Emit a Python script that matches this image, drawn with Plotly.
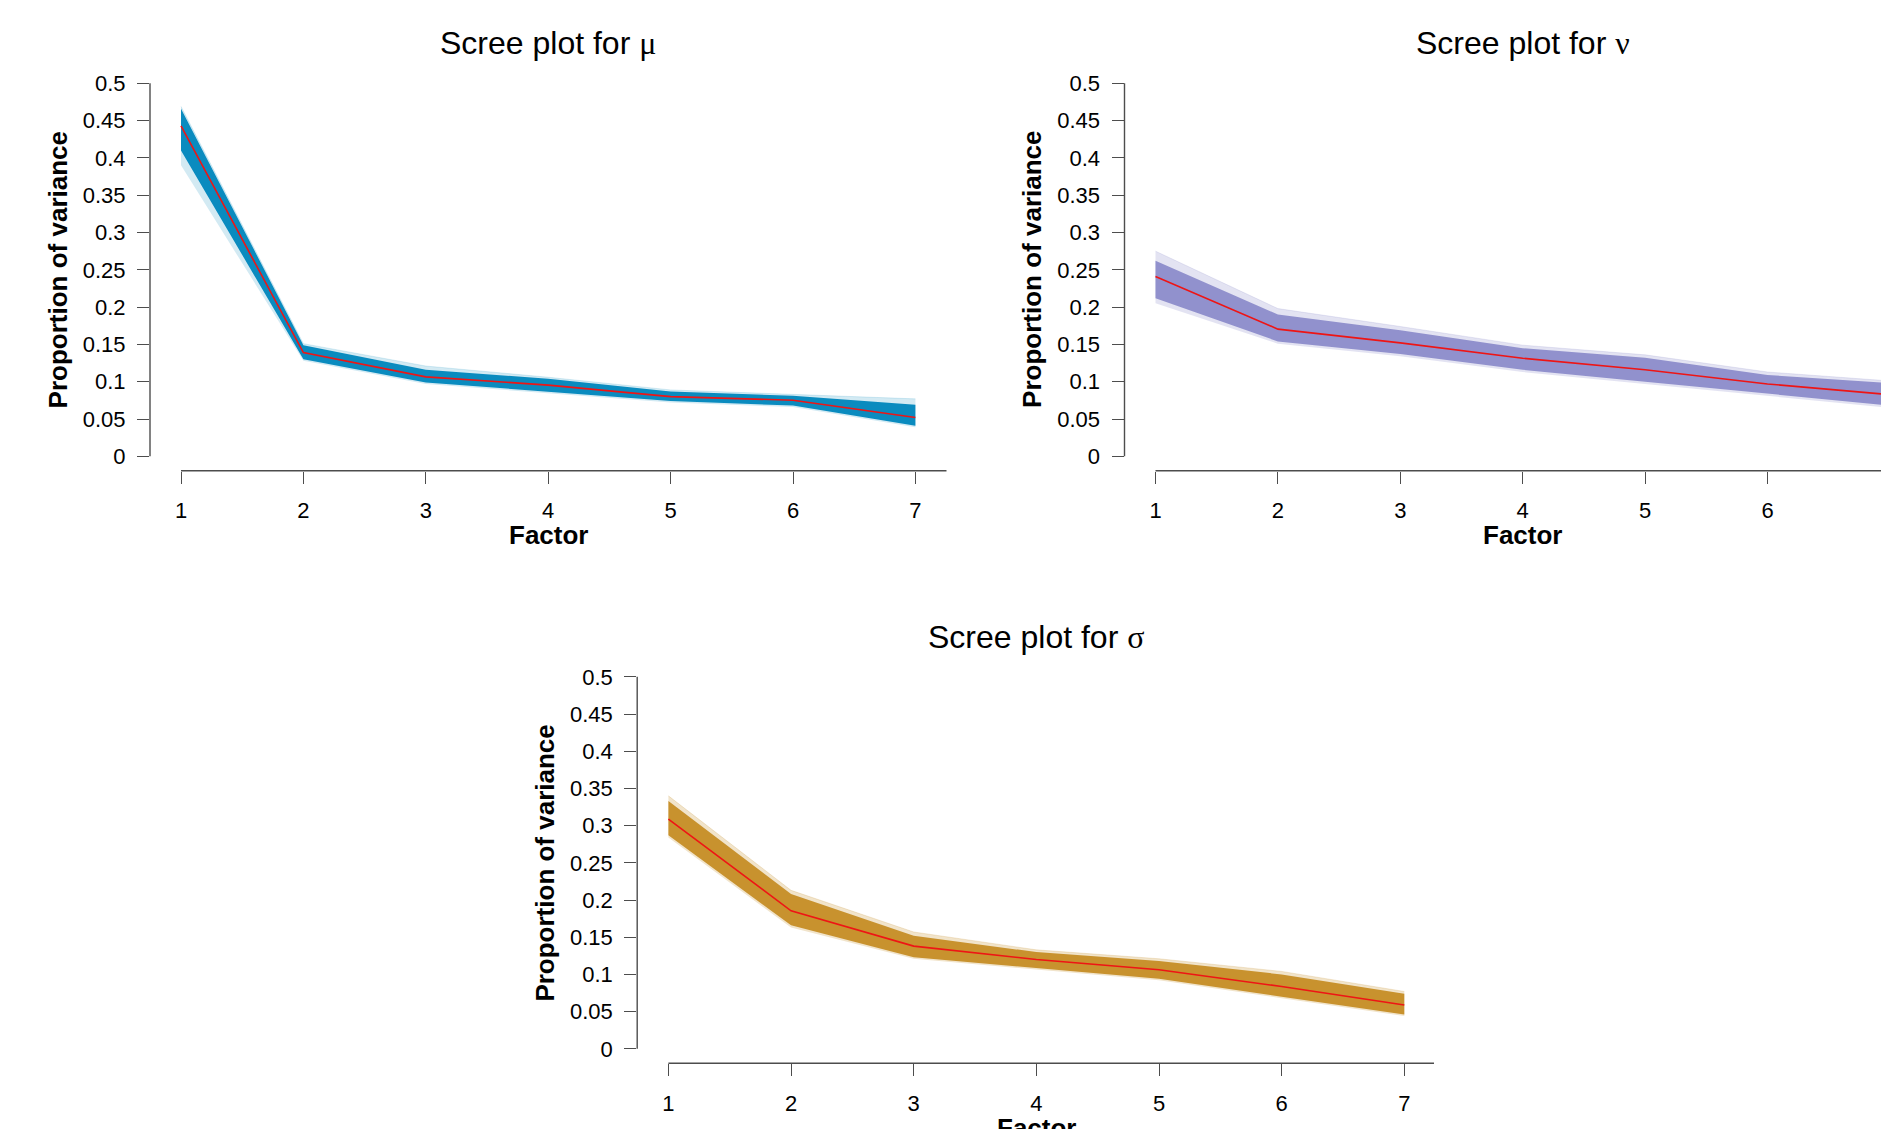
import plotly.graph_objects as go

W, H = 1881, 1129

factors = [1, 2, 3, 4, 5, 6, 7]
y_tickvals = [0, 0.05, 0.1, 0.15, 0.2, 0.25, 0.3, 0.35, 0.4, 0.45, 0.5]
y_ticktext = ["0", "0.05", "0.1", "0.15", "0.2", "0.25", "0.3", "0.35", "0.4", "0.45", "0.5"]
x_ticktext = ["1", "2", "3", "4", "5", "6", "7"]

titles = ["μ", "ν", "σ"]

mu_median = [0.443, 0.139, 0.1065, 0.0954, 0.080, 0.0752, 0.052]
mu_inner_lo = [0.410, 0.130, 0.099, 0.086, 0.074, 0.068, 0.041]
mu_inner_hi = [0.466, 0.149, 0.116, 0.104, 0.087, 0.081, 0.069]
mu_outer_lo = [0.390, 0.128, 0.097, 0.084, 0.072, 0.066, 0.039]
mu_outer_hi = [0.469, 0.151, 0.121, 0.106, 0.089, 0.083, 0.077]

nu_median = [0.241, 0.1705, 0.152, 0.1315, 0.116, 0.097, 0.0827]
nu_inner_lo = [0.212, 0.154, 0.137, 0.116, 0.100, 0.084, 0.068]
nu_inner_hi = [0.262, 0.190, 0.169, 0.145, 0.132, 0.109, 0.098]
nu_outer_lo = [0.205, 0.151, 0.134, 0.113, 0.097, 0.081, 0.065]
nu_outer_hi = [0.275, 0.198, 0.174, 0.149, 0.136, 0.113, 0.101]

sigma_median = [0.3086, 0.1855, 0.138, 0.120, 0.1063, 0.0837, 0.0588]
sigma_inner_lo = [0.287, 0.166, 0.123, 0.108, 0.094, 0.070, 0.046]
sigma_inner_hi = [0.333, 0.208, 0.152, 0.130, 0.118, 0.100, 0.074]
sigma_outer_lo = [0.284, 0.163, 0.121, 0.106, 0.092, 0.068, 0.044]
sigma_outer_hi = [0.340, 0.213, 0.157, 0.133, 0.121, 0.104, 0.077]

band_colors = ["#0a8bbf", "#9191cd", "#c8922e"]
outer_colors = ["rgba(10,139,191,0.18)", "rgba(145,145,205,0.25)", "rgba(200,146,46,0.25)"]
median_color = "#ee1515"

series = [
    (mu_median, mu_inner_lo, mu_inner_hi, mu_outer_lo, mu_outer_hi),
    (nu_median, nu_inner_lo, nu_inner_hi, nu_outer_lo, nu_outer_hi),
    (sigma_median, sigma_inner_lo, sigma_inner_hi, sigma_outer_lo, sigma_outer_hi),
]

panels = [
    dict(left=150.0, right=946.7, t1=181.0, unit=122.4, ytop=83.3, y0=456.3, ybot=470.7),
    dict(left=1124.5, right=1881.0, t1=1155.5, unit=122.4, ytop=83.3, y0=456.3, ybot=470.7),
    dict(left=637.2, right=1434.0, t1=668.4, unit=122.65, ytop=676.8, y0=1048.8, ybot=1063.3),
]

FONT = "Liberation Sans, Arial, sans-serif"
AX = "#4d4d4d"

fig = go.Figure()
layout = dict(
    width=W, height=H, margin=dict(l=0, r=0, t=0, b=0),
    paper_bgcolor="white", plot_bgcolor="white", showlegend=False,
    font=dict(family=FONT, color="black"),
)
shapes = []
annotations = []

for i, (p, s) in enumerate(zip(panels, series)):
    med, ilo, ihi, olo, ohi = s
    k = "" if i == 0 else str(i + 1)
    xa, ya = "x" + k, "y" + k
    unitv = (p["y0"] - p["ytop"]) / 0.5
    xmin = 1 - (p["t1"] - p["left"]) / p["unit"]
    xmax = 1 + (p["right"] - p["t1"]) / p["unit"]
    ymin = -(p["ybot"] - p["y0"]) / unitv
    ymax = 0.52
    top_px = p["y0"] - ymax * unitv

    layout["xaxis" + k] = dict(
        domain=[p["left"] / W, min(p["right"] / W, 1.0)], range=[xmin, xmax],
        anchor=ya, tickvals=factors, ticktext=x_ticktext, ticks="outside", ticklen=12,
        tickwidth=1.4, tickcolor=AX, showline=False, showgrid=False, zeroline=False,
        tickfont=dict(size=22, family=FONT, color="black"), ticklabelstandoff=8,
        fixedrange=True,
    )
    layout["yaxis" + k] = dict(
        domain=[1 - p["ybot"] / H, 1 - top_px / H], range=[ymin, ymax],
        anchor=xa, tickvals=y_tickvals, ticktext=y_ticktext, ticks="outside", ticklen=12,
        tickwidth=1.4, tickcolor=AX, showline=False, showgrid=False, zeroline=False,
        tickfont=dict(size=22, family=FONT, color="black"), ticklabelstandoff=7,
        fixedrange=True,
    )

    fig.add_trace(go.Scatter(x=factors, y=olo, xaxis=xa, yaxis=ya, mode="lines",
                             line=dict(width=0, color=outer_colors[i]), hoverinfo="skip"))
    fig.add_trace(go.Scatter(x=factors, y=ohi, xaxis=xa, yaxis=ya, mode="lines",
                             line=dict(width=0.8, color=outer_colors[i]), fill="tonexty",
                             fillcolor=outer_colors[i], hoverinfo="skip"))
    fig.add_trace(go.Scatter(x=factors, y=ilo, xaxis=xa, yaxis=ya, mode="lines",
                             line=dict(width=0, color=band_colors[i]), hoverinfo="skip"))
    fig.add_trace(go.Scatter(x=factors, y=ihi, xaxis=xa, yaxis=ya, mode="lines",
                             line=dict(width=0, color=band_colors[i]), fill="tonexty",
                             fillcolor=band_colors[i], hoverinfo="skip"))
    fig.add_trace(go.Scatter(x=factors, y=med, xaxis=xa, yaxis=ya, mode="lines",
                             line=dict(width=1.6, color=median_color), name="median"))

    shapes.append(dict(type="line", xref=xa + " domain", yref=ya, x0=0, x1=0, y0=0, y1=0.5,
                       line=dict(color=AX, width=1.4)))
    shapes.append(dict(type="line", xref=xa, yref=ya + " domain", x0=1, x1=xmax, y0=0, y1=0,
                       line=dict(color=AX, width=1.4)))

    annotations.append(dict(
        text='Scree plot for <span style="font-family:Liberation Serif">%s</span>' % titles[i],
        xref=xa, x=4, yref="paper", y=1 - (p["ytop"] - 39.8) / H,
        xanchor="center", yanchor="middle", showarrow=False,
        font=dict(size=32, family=FONT, color="black")))
    annotations.append(dict(
        text="<b>Proportion of variance</b>", textangle=-90,
        xref="paper", x=(p["left"] - 92.4) / W, yref="paper",
        y=1 - ((p["ytop"] + p["y0"]) / 2) / H,
        xanchor="center", yanchor="middle", showarrow=False,
        font=dict(size=26, family=FONT, color="black")))
    annotations.append(dict(
        text="<b>Factor</b>", xref=xa, x=4, yref="paper", y=1 - (p["ybot"] + 64.3) / H,
        xanchor="center", yanchor="middle", showarrow=False,
        font=dict(size=26, family=FONT, color="black")))

layout["shapes"] = shapes
layout["annotations"] = annotations
fig.update_layout(**layout)
fig.write_html("out.html", config={"displayModeBar": False})

# remove the default page margin so the figure sits at the window's top-left corner
with open("out.html", "r", encoding="utf-8") as f:
    html = f.read()
html = html.replace("<head>", "<head><style>html,body{margin:0;padding:0;overflow:hidden}</style>", 1)
with open("out.html", "w", encoding="utf-8") as f:
    f.write(html)
